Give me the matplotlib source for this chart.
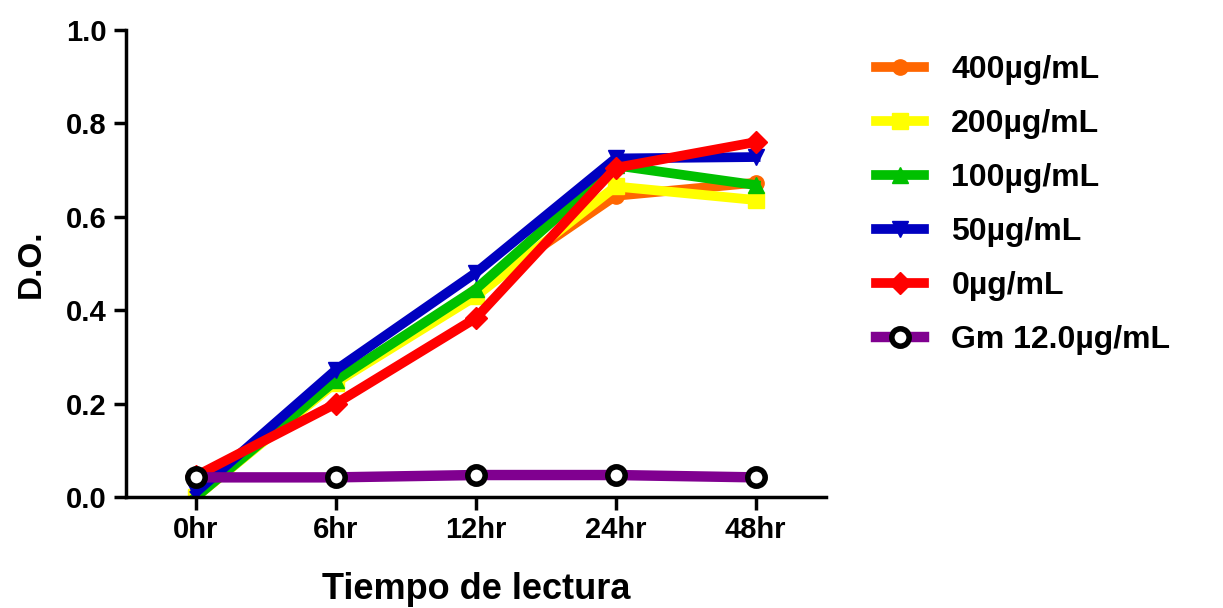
import matplotlib
matplotlib.use("Agg")
import matplotlib.pyplot as plt

plt.rcParams['font.family'] = ['Liberation Sans', 'DejaVu Sans']
plt.rcParams['font.weight'] = 'bold'

times = ["0hr", "6hr", "12hr", "24hr", "48hr"]
labels = ["400µg/mL", "200µg/mL", "100µg/mL", "50µg/mL", "0µg/mL", "Gm 12.0µg/mL"]
v400 = [0.00, 0.25, 0.44, 0.645, 0.673]
v200 = [0.00, 0.245, 0.43, 0.665, 0.636]
v100 = [0.00, 0.25, 0.445, 0.71, 0.668]
v50 = [0.01, 0.272, 0.48, 0.725, 0.728]
v0 = [0.045, 0.20, 0.383, 0.705, 0.76]
vgm = [0.042, 0.042, 0.047, 0.047, 0.042]

series = [v400, v200, v100, v50, v0, vgm]
colors = ["#ff6600", "#ffff00", "#00c000", "#0000c0", "#ff0000", "#800090"]
markers = ["o", "s", "^", "v", "D", "o"]

fig = plt.figure(figsize=(12.23, 6.08), dpi=100)
ax = fig.add_axes([0.103, 0.1826, 0.572, 0.768])
x = list(range(len(times)))
for vals, c, m, lab in zip(series, colors, markers, labels):
    if lab.startswith("Gm"):
        ax.plot(x, vals, color=c, lw=7.5, marker="o", markersize=12.5,
                markerfacecolor="white", markeredgecolor="black",
                markeredgewidth=4, label=lab, zorder=5)
    else:
        ax.plot(x, vals, color=c, lw=7, marker=m, markersize=11,
                markeredgecolor=c, label=lab)

ax.set_xlim(-0.5, 4.5)
ax.set_ylim(0, 1.0)
ax.set_xticks(x)
ax.set_xticklabels(times, fontsize=21, fontweight="bold")
ax.set_yticks([0.0, 0.2, 0.4, 0.6, 0.8, 1.0])
ax.set_yticklabels(["0.0", "0.2", "0.4", "0.6", "0.8", "1.0"],
                   fontsize=21, fontweight="bold")
for s in ["top", "right"]:
    ax.spines[s].set_visible(False)
for s in ["left", "bottom"]:
    ax.spines[s].set_linewidth(2.5)
ax.tick_params(axis="both", direction="out", length=9, width=2.5, pad=5)
ax.set_xlabel("Tiempo de lectura", fontsize=26, fontweight="bold", labelpad=20)
ax.set_ylabel("D.O.", fontsize=24, fontweight="bold", labelpad=14)

leg = fig.legend(loc="upper left", bbox_to_anchor=(0.706, 0.93), frameon=False,
                 prop={"size": 23, "weight": "bold"}, handlelength=1.5,
                 labelspacing=0.75, handletextpad=0.85, borderaxespad=0)

fig.savefig("out.png", dpi=100)
